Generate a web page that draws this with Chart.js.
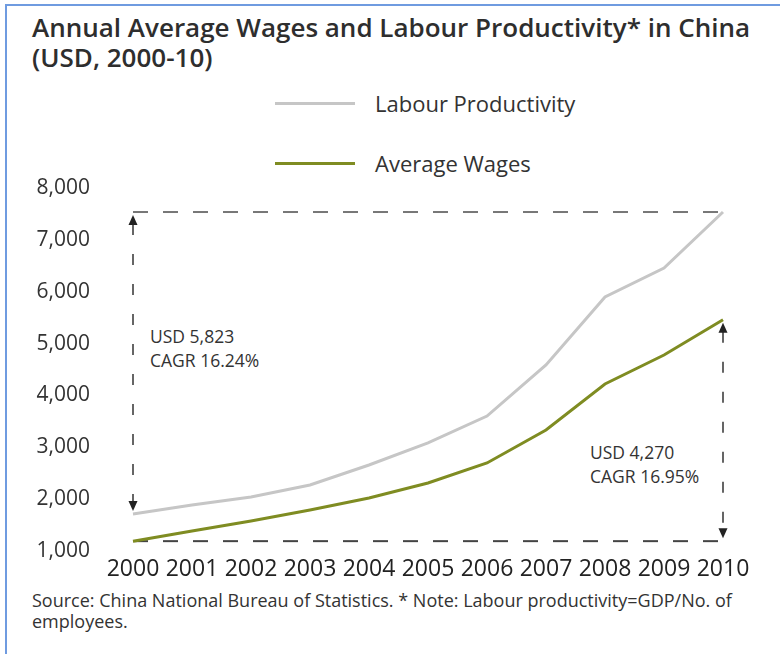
<!DOCTYPE html>
<html lang="en">
<head>
  <meta charset="UTF-8">
  <title>Annual Average Wages and Labour Productivity in China</title>
  <style>
    * {
      margin: 0;
      padding: 0;
      box-sizing: border-box;
    }

    body {
      width: 780px;
      height: 654px;
      background-color: #fff;
      font-family: "Open Sans", Arial, sans-serif;
      color: #333;
      position: relative;
      overflow: hidden;
    }

    /* blue frame, only top and left edges show */
    .frame {
      position: absolute;
      left: 5px;
      top: 4px;
      width: 800px;
      height: 700px;
      border-left: 2px solid #6f9be0;
      border-top: 2px solid #6f9be0;
    }

    .title {
      position: absolute;
      left: 32px;
      top: 12px;
      font-size: 26px;
      font-weight: 600;
      line-height: 30px;
      color: #2e2e2e;
      white-space: nowrap;
    }

    .legend-item {
      position: absolute;
      left: 275px;
      height: 30px;
      display: flex;
      align-items: center;
      font-size: 22px;
      color: #333;
      white-space: nowrap;
    }

    .legend-item span.swatch {
      display: inline-block;
      width: 80px;
      height: 3px;
      margin-right: 20px;
    }

    .note {
      position: absolute;
      font-size: 17.5px;
      line-height: 24px;
      color: #333;
      white-space: nowrap;
    }

    .source {
      position: absolute;
      left: 32px;
      top: 590px;
      font-size: 18px;
      line-height: 21px;
      color: #333;
      white-space: nowrap;
    }

    canvas {
      position: absolute;
      left: 0;
      top: 170px;
    }
  </style>
  <script src="https://cdn.jsdelivr.net/npm/chart.js"></script>
</head>
<body>
  <div class="frame"></div>

  <div class="title">Annual Average Wages and Labour Productivity* in China<br>(USD, 2000-10)</div>

  <div class="legend-item" style="top: 88px;"><span class="swatch" style="background:#c6c6c6;"></span>Labour Productivity</div>
  <div class="legend-item" style="top: 148px;"><span class="swatch" style="background:#7f8c22;"></span>Average Wages</div>

  <div class="note" style="left: 150px; top: 324px;">USD 5,823<br>CAGR 16.24%</div>
  <div class="note" style="left: 590px; top: 440px;">USD 4,270<br>CAGR 16.95%</div>

  <canvas id="wageChart" width="780" height="411"></canvas>

  <div class="source">Source: China National Bureau of Statistics. * Note: Labour productivity=GDP/No. of<br>employees.</div>

  <script>
    const years = ["2000", "2001", "2002", "2003", "2004", "2005", "2006", "2007", "2008", "2009", "2010"];
    const productivity = [1714, 1887, 2041, 2273, 2658, 3083, 3603, 4587, 5898, 6457, 7537];
    const wages = [1190, 1386, 1578, 1790, 2022, 2311, 2697, 3333, 4220, 4779, 5460];
    const yTicks = [1000, 2000, 3000, 4000, 5000, 6000, 7000, 8000];

    // dashed brackets with arrows showing the 2000-10 increase of each series
    const guides = {
      id: "guides",
      beforeDatasetsDraw(chart) {
        const ctx = chart.ctx;
        const x = chart.scales.x;
        const y = chart.scales.y;
        const last = years.length - 1;
        const x0 = x.getPixelForValue(0);
        const x1 = x.getPixelForValue(last);
        const pTop = y.getPixelForValue(productivity[last]);
        const pBot = y.getPixelForValue(productivity[0]);
        const wTop = y.getPixelForValue(wages[last]);
        const wBot = y.getPixelForValue(wages[0]);

        ctx.save();
        ctx.lineWidth = 2;
        ctx.setLineDash([15, 15]);

        ctx.strokeStyle = "#777";
        ctx.beginPath();
        ctx.moveTo(x0, pTop);
        ctx.lineTo(x1, pTop);
        ctx.stroke();

        ctx.strokeStyle = "#444";
        ctx.beginPath();
        ctx.moveTo(x0, wBot);
        ctx.lineTo(x1, wBot);
        ctx.stroke();

        ctx.lineWidth = 1.5;
        ctx.strokeStyle = "#333";
        ctx.setLineDash([11, 19]);
        ctx.beginPath();
        ctx.moveTo(x0, pTop + 12);
        ctx.lineTo(x0, pBot - 10);
        ctx.moveTo(x1, wTop + 12);
        ctx.lineTo(x1, wBot - 10);
        ctx.stroke();

        ctx.setLineDash([]);
        ctx.fillStyle = "#222";
        function arrow(px, py, dir) {
          ctx.beginPath();
          ctx.moveTo(px, py);
          ctx.lineTo(px - 4.5, py + dir * 10);
          ctx.lineTo(px + 4.5, py + dir * 10);
          ctx.closePath();
          ctx.fill();
        }
        arrow(x0, pTop + 3, 1);
        arrow(x0, pBot - 3, -1);
        arrow(x1, wTop + 3, 1);
        arrow(x1, wBot - 3, -1);
        ctx.restore();
      }
    };

    new Chart(document.getElementById("wageChart").getContext("2d"), {
      type: "line",
      data: {
        labels: years,
        datasets: [
          {
            label: "Labour Productivity",
            data: productivity,
            borderColor: "#c6c6c6",
            borderWidth: 3,
            pointRadius: 0,
            tension: 0
          },
          {
            label: "Average Wages",
            data: wages,
            borderColor: "#7f8c22",
            borderWidth: 3,
            pointRadius: 0,
            tension: 0
          }
        ]
      },
      options: {
        responsive: false,
        animation: false,
        devicePixelRatio: 1,
        layout: { padding: { left: 0, right: 57, top: 18, bottom: 0 } },
        plugins: {
          legend: { display: false },
          tooltip: { enabled: false }
        },
        scales: {
          x: {
            grid: { display: false, drawTicks: false },
            border: { display: false },
            ticks: {
              autoSkip: false,
              maxRotation: 0,
              padding: 5,
              color: "#222",
              font: { family: "Open Sans", size: 23 }
            },
            afterFit(axis) {
              axis.height = 30;
              axis.paddingLeft = 0;
              axis.paddingRight = 0;
            }
          },
          y: {
            min: 1000,
            max: 8000,
            grid: { display: false, drawTicks: false },
            border: { display: false },
            afterBuildTicks(axis) { axis.ticks = yTicks.map(v => ({ value: v })); },
            ticks: {
              padding: 43,
              color: "#333",
              font: { family: "Open Sans", size: 21 },
              callback: v => v.toLocaleString("en-US")
            },
            afterFit(axis) {
              axis.width = 133;
              axis.paddingTop = 0;
              axis.paddingBottom = 0;
            }
          }
        }
      },
      plugins: [guides]
    });
  </script>
</body>
</html>
